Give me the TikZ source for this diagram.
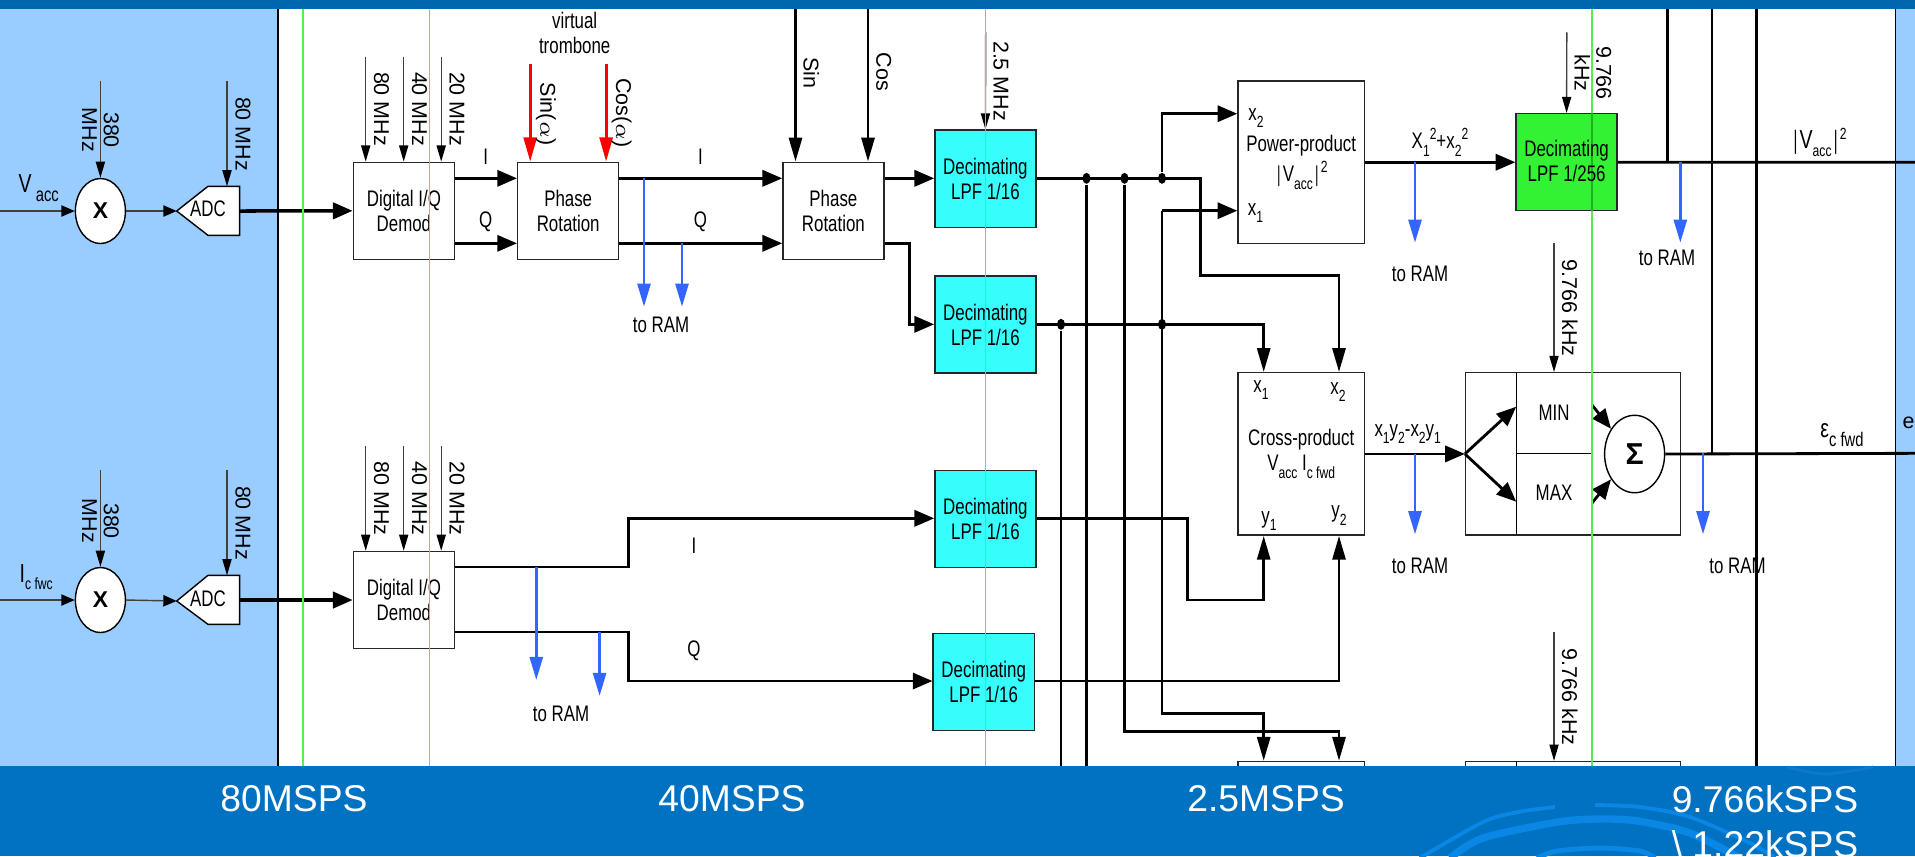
\documentclass[tikz,border=0pt]{standalone}
\usepackage{fontspec}
\usepackage{xcolor}
\usetikzlibrary{arrows.meta,shapes.geometric}
\setmainfont{Liberation Sans}
\newfontfamily\narrowfont[FakeStretch=0.75]{Liberation Sans}
\newcommand{\labsize}{\fontsize{6.4}{7.1}\selectfont}
\newcommand{\rotsize}{\fontsize{6.1}{6.2}\selectfont}
\newcommand{\bigsize}{\fontsize{7.4}{8}\selectfont}
\newcommand{\lowsub}[1]{\raisebox{-2.2pt}{\fontsize{4.6}{5}\selectfont #1}}
\newcommand{\lowsubb}[1]{\raisebox{-2.6pt}{\fontsize{5.6}{6}\selectfont #1}}
\newcommand{\highsup}[1]{\raisebox{2.6pt}{\fontsize{4.6}{5}\selectfont #1}}
\definecolor{panelblue}{HTML}{99CCFF}
\definecolor{topband}{HTML}{0066AE}
\definecolor{botband}{HTML}{0072C1}
\definecolor{swirlblue}{HTML}{0A86E4}
\definecolor{swirlpale}{HTML}{1078C8}
\definecolor{ramblue}{HTML}{3366FF}
\definecolor{deccyan}{HTML}{38FDFD}
\definecolor{decgreen}{HTML}{33F233}
\definecolor{syncgreen}{HTML}{55EE55}
\definecolor{syncdark}{HTML}{22B022}
\tikzset{
  sigbox/.style={draw=black!85,fill=white,inner sep=0pt,line width=.4pt,minimum width=1.01cm,minimum height=.97cm,align=center},
  decbox/.style={sigbox,fill=deccyan},
  lab/.style={inner sep=0pt,align=center},
  rotlab/.style={inner sep=0pt,align=center,rotate=-90,font=\rmfamily\rotsize},
  clkline/.style={line width=.4pt,black!75,-{Triangle[length=4.6pt,width=2.6pt,black]}},
  clkin/.style={line width=.4pt,black!75,-{Triangle[length=3.8pt,width=3.2pt,black]}},
  sigline/.style={line width=.8pt,-{Triangle[length=5.6pt,width=4.6pt]}},
  sigdown/.style={line width=.8pt,-{Triangle[length=6.8pt,width=3.7pt]}},
  wire/.style={line width=.8pt},
  fatline/.style={line width=1pt,-{Triangle[length=5.6pt,width=4.6pt]}},
  ramline/.style={line width=.8pt,ramblue,-{Triangle[length=6.6pt,width=3.7pt]}},
  redline/.style={line width=.8pt,red,-{Triangle[length=6.9pt,width=3.7pt]}},
  dotnode/.style={ellipse,fill=black,inner sep=0pt,minimum width=.08cm,minimum height=.11cm},
  bandlab/.style={inner sep=0pt,white,font=\rmfamily\fontsize{10.6}{12}\selectfont},
  syncline/.style={line width=.35pt,syncgreen},
  swirl/.style={swirlblue,line cap=butt}
}
\begin{document}
\begin{tikzpicture}[x=0.01cm,y=-0.01cm,font=\narrowfont\labsize]
  \useasboundingbox (0,0) rectangle (1915,856);
  \clip (0,0) rectangle (1915,856);
  % side panels
  \fill[panelblue] (0,0) rectangle (278,770);
  \fill[panelblue] (1895.4,0) rectangle (1915,770);
  \draw[line width=.35pt] (278,0) -- (278,770);
  \draw[line width=.35pt] (1895.4,0) -- (1895.4,770);
  % row heights and free ends
  \coordinate (rowi) at (0,178.3);
  \coordinate (rowq) at (0,243.3);
  \coordinate (rowxb) at (0,113.7);
  \coordinate (rowxa) at (0,210.7);
  \coordinate (rowqb) at (0,324.3);
  \coordinate (rowc) at (0,518.3);
  \coordinate (rowd) at (0,681);
  \coordinate (rowe) at (0,567);
  \coordinate (rowf) at (0,632);
  \coordinate (rowgb) at (0,713.3);
  \coordinate (rowgc) at (0,731.7);
  \coordinate (rowend) at (0,770);
  \coordinate (xone) at (1263.7,0);
  \coordinate (xtwo) at (1339,0);
  \coordinate (busc) at (1162,0);
  % front end, upper channel
  \node[ellipse,draw,fill=white,inner sep=0pt,minimum width=.5cm,minimum height=.65cm] (mixa) at (100.4,211) {\rmfamily\bfseries\fontsize{6.5}{7}\selectfont X};
  \draw[fill=white,line width=.4pt] (176.7,211) -- (208,186.3) -- (239.6,186.3) -- (239.6,235.3) -- (208,235.3) -- cycle;
  \coordinate (adcatip) at (176.7,211);
  \coordinate (adcaout) at (239.6,211);
  \coordinate (adcatop) at (227,186.3);
  \node[lab] (adcalab) at (208,209) {ADC};
  \coordinate (vaccin) at (0,211);
  \coordinate (mixclka) at (100.4,81);
  \coordinate (adcclka) at (227,81);
  \node[sigbox] (demoda) at (403.9,210.8) {Digital I/Q\\Demod};
  \node[sigbox] (rota) at (568.2,210.8) {Phase\\Rotation};
  \node[sigbox] (rotb) at (833.4,210.8) {Phase\\Rotation};
  \node[decbox] (deca) at (985.4,178.7) {Decimating\\LPF 1/16};
  \node[decbox] (decb) at (985.4,324.5) {Decimating\\LPF 1/16};
  \draw[clkin] (vaccin) -- (mixa.west);
  \draw[clkin] (mixa.east) -- (adcatip);
  \draw[clkline] (mixclka) -- (mixa.north);
  \draw[clkline] (adcclka) -- (adcatop);
  \draw[fatline] (adcaout) -- (demoda.west);
  \node[lab,font=\narrowfont\bigsize,anchor=west] (vacclab) at (18,188) {V\lowsubb{ acc}};
  \node[rotlab] (mixlaba) at (100.4,130) {380\\MHz};
  \node[rotlab] (adclaba) at (243,134) {80 MHz};
  % clocks of the first demodulator
  \coordinate (clka) at (365.7,56.7);
  \coordinate (clkb) at (403.7,56.7);
  \coordinate (clkc) at (441.2,56.7);
  \draw[clkline] (clka) -- (clka |- demoda.north);
  \draw[clkline] (clkb) -- (clkb |- demoda.north);
  \draw[clkline] (clkc) -- (clkc |- demoda.north);
  \node[rotlab] (clklaba) at (381.6,109) {80 MHz};
  \node[rotlab] (clklabb) at (419.6,109) {40 MHz};
  \node[rotlab] (clklabc) at (457,109) {20 MHz};
  \draw[sigline] (demoda.east |- rowi) -- (rota.west |- rowi);
  \draw[sigline] (demoda.east |- rowq) -- (rota.west |- rowq);
  \node[lab] (ilaba) at (485.7,157) {I};
  \node[lab] (qlaba) at (485.7,222) {Q};
  % trombone
  \node[lab] (tromblab) at (574.7,33) {virtual\\trombone};
  \coordinate (sina) at (530.2,64);
  \coordinate (cosa) at (606.1,64);
  \draw[redline] (sina) -- (sina |- rota.north);
  \draw[redline] (cosa) -- (cosa |- rota.north);
  \node[rotlab] (sinlaba) at (546,114) {Sin($\alpha$)};
  \node[rotlab] (coslaba) at (621.6,113) {Cos($\alpha$)};
  \draw[sigline] (rota.east |- rowi) -- (rotb.west |- rowi);
  \draw[sigline] (rota.east |- rowq) -- (rotb.west |- rowq);
  \node[lab] (ilabb) at (700.4,157) {I};
  \node[lab] (qlabb) at (700.4,222) {Q};
  \coordinate (rama) at (644,306.7);
  \coordinate (ramb) at (682,306.7);
  \draw[ramline] (rama |- rowi) -- (rama);
  \draw[ramline] (ramb |- rowq) -- (ramb);
  \node[lab] (ramlaba) at (661,325) {to RAM};
  % second rotation
  \coordinate (sinb) at (795.5,5);
  \coordinate (cosb) at (868,5);
  \draw[sigdown] (sinb) -- (sinb |- rotb.north);
  \draw[sigdown] (cosb) -- (cosb |- rotb.north);
  \node[rotlab] (sinlabb) at (811.4,73) {Sin};
  \node[rotlab] (coslabb) at (883.7,72) {Cos};
  \coordinate (qbend) at (909.4,324.3);
  \draw[sigline] (rotb.east |- rowi) -- (deca.west |- rowi);
  \draw[sigline] (rotb.east |- rowq) -| (qbend) -- (decb.west |- qbend);
  \coordinate (clkdec) at (985.7,32);
  \draw[clkline] (clkdec) -- (deca.north);
  \node[rotlab] (declab) at (1001,81) {2.5 MHz};
  % front end, lower channel
  \node[ellipse,draw,fill=white,inner sep=0pt,minimum width=.5cm,minimum height=.65cm] (mixb) at (100.4,600) {\rmfamily\bfseries\fontsize{6.5}{7}\selectfont X};
  \draw[fill=white,line width=.4pt] (176.7,601) -- (208,575.3) -- (239.6,575.3) -- (239.6,624.3) -- (208,624.3) -- cycle;
  \coordinate (adcbtip) at (176.7,601);
  \coordinate (adcbout) at (239.6,600);
  \coordinate (adcbtop) at (227,575.3);
  \node[lab] (adcblab) at (208,598.3) {ADC};
  \coordinate (icin) at (0,600);
  \coordinate (mixclkb) at (100.4,470);
  \coordinate (adcclkb) at (227,470);
  \node[sigbox] (demodb) at (403.9,600) {Digital I/Q\\Demod};
  \node[decbox] (decc) at (985.4,518.8) {Decimating\\LPF 1/16};
  \node[decbox] (decd) at (983.7,681.8) {Decimating\\LPF 1/16};
  \draw[clkin] (icin) -- (mixb.west);
  \draw[clkin] (mixb.east) -- (adcbtip);
  \draw[clkline] (mixclkb) -- (mixb.north);
  \draw[clkline] (adcclkb) -- (adcbtop);
  \draw[fatline] (adcbout) -- (demodb.west);
  \node[lab,font=\narrowfont\bigsize,anchor=west] (iclab) at (19,577) {I\lowsub{c fwc}};
  \node[rotlab] (mixlabb) at (100.4,521) {380\\MHz};
  \node[rotlab] (adclabb) at (243,523) {80 MHz};
  \coordinate (clkd) at (365.7,446);
  \coordinate (clke) at (403.7,446);
  \coordinate (clkf) at (441.2,446);
  \draw[clkline] (clkd) -- (clkd |- demodb.north);
  \draw[clkline] (clke) -- (clke |- demodb.north);
  \draw[clkline] (clkf) -- (clkf |- demodb.north);
  \node[rotlab] (clklabd) at (381.6,498.7) {80 MHz};
  \node[rotlab] (clklabe) at (419.6,498.7) {40 MHz};
  \node[rotlab] (clklabf) at (457,498.7) {20 MHz};
  \coordinate (ebend) at (628.6,518.3);
  \coordinate (fbend) at (628.6,681);
  \draw[sigline] (demodb.east |- rowe) -| (ebend) -- (decc.west |- ebend);
  \draw[sigline] (demodb.east |- rowf) -| (fbend) -- (decd.west |- fbend);
  \node[lab] (ilabc) at (694,546) {I};
  \node[lab] (qlabc) at (694,650.7) {Q};
  \coordinate (ramc) at (536.3,680);
  \coordinate (ramd) at (599.6,696);
  \draw[ramline] (ramc |- rowe) -- (ramc);
  \draw[ramline] (ramd |- rowf) -- (ramd);
  \node[lab] (ramlabb) at (561,714) {to RAM};
  % products
  \node[sigbox,minimum width=1.264cm,minimum height=1.623cm] (power) at (1301.2,162.2) {Power-product\\[.5pt]$|$V\lowsub{acc}$|$\highsup{2}};
  \node[sigbox,minimum width=1.264cm,minimum height=1.623cm] (cross) at (1301.2,453.9) {Cross-product\\V\lowsub{acc} I\lowsub{c fwd}};
  \node[sigbox,minimum width=1.264cm,minimum height=.09cm] (crossc) at (1301.2,766) {};
  \node[lab] (xtwolab) at (1256,118) {x\lowsub{2}};
  \node[lab] (xonelab) at (1255.5,213) {x\lowsub{1}};
  \node[lab] (xacross) at (1261,390) {x\lowsub{1}};
  \node[lab] (xbcross) at (1338,392) {x\lowsub{2}};
  \node[lab] (yacross) at (1269,521) {y\lowsub{1}};
  \node[lab] (ybcross) at (1339,515.7) {y\lowsub{2}};
  % bus wiring
  \coordinate (dbend) at (1200.4,275.7);
  \coordinate (cbend) at (1187.3,600);
  \node[dotnode] (dota) at (1086.5,178.3) {};
  \node[dotnode] (dotb) at (1124.5,178.3) {};
  \node[dotnode] (dotc) at (1162,178.3) {};
  \node[dotnode] (dotd) at (1061,324.3) {};
  \node[dotnode] (dote) at (1162,324.3) {};
  \draw[sigdown] (deca.east |- rowi) -| (dbend) -- (xtwo |- dbend) -- (xtwo |- cross.north);
  \draw[sigline] (dotc) |- (power.west |- rowxb);
  \draw[sigline] (busc |- rowxa) -- (power.west |- rowxa);
  \draw[sigdown] (busc |- rowxa) |- (xone |- rowgb) -- (xone |- crossc.north);
  \draw[sigdown] (decb.east |- rowqb) -- (xone |- rowqb) -- (xone |- cross.north);
  \draw[wire] (dotd) -- (dotd |- rowend);
  \draw[wire] (dota) -- (dota |- rowend);
  \draw[sigdown] (dotb) |- (xtwo |- rowgc) -- (xtwo |- crossc.north);
  \draw[sigdown] (decc.east |- rowc) -| (cbend) -- (xone |- cbend) -- (xone |- cross.south);
  \draw[sigdown] (decd.east |- rowd) -- (xtwo |- rowd) -- (xtwo |- cross.south);
  % power branch
  \node[decbox,fill=decgreen] (decg) at (1566.6,162.2) {};
  \draw[sigline] (power.east) -- (decg.west);
  \node[lab] (powlab) at (1440,142) {X\lowsub{1}\highsup{2}+x\lowsub{2}\highsup{2}};
  \coordinate (rame) at (1415,242.7);
  \draw[ramline] (rame |- power.east) -- (rame);
  \node[lab] (ramlabc) at (1420,274) {to RAM};
  \coordinate (clkg) at (1566.8,32.3);
  \draw[clkline] (clkg) -- (decg.north);
  \node[rotlab] (glab) at (1593,73) {9.766\\kHz};
  \coordinate (rightout) at (1915,162.3);
  \draw[wire] (decg.east) -- (rightout);
  \coordinate (busr) at (1667.7,5);
  \coordinate (busm) at (1712,5);
  \coordinate (busn) at (1756.2,5);
  \draw[wire] (busr) -- (busr |- rightout);
  \coordinate (ramf) at (1680.3,242.7);
  \draw[ramline] (ramf |- rightout) -- (ramf);
  \node[lab] (ramlabd) at (1667,258) {to RAM};
  \node[lab,font=\narrowfont\bigsize] (vlab) at (1819,142) {$|$V\lowsub{acc}$|$\highsup{2}};
  % min max branch
  \node[sigbox,minimum width=2.147cm,minimum height=1.623cm] (minmax) at (1573,453.9) {};
  \node[sigbox,minimum width=2.147cm,minimum height=.09cm] (minmaxb) at (1573,766) {};
  \coordinate (mmtop) at (1516.2,372.7);
  \coordinate (mmbot) at (1516.2,535);
  \coordinate (mmmid) at (1516.2,453.3);
  \coordinate (mmend) at (1592,453.3);
  \coordinate (mmendb) at (1516.2,770);
  \draw[line width=.4pt] (mmtop) -- (mmbot);
  \draw[line width=.4pt] (mmmid) -- (mmend);
  \draw[line width=.4pt] (minmaxb.north -| mmtop) -- (mmendb);
  \node[lab] (minlab) at (1554,412.7) {MIN};
  \node[lab] (maxlab) at (1554,492.7) {MAX};
  \node[ellipse,draw,fill=white,inner sep=0pt,minimum width=.6cm,minimum height=.774cm,font=\rmfamily\bfseries\fontsize{8.6}{9}\selectfont] (sigma) at (1634.6,454) {Σ};
  \draw[sigline] (cross.east) -- (minmax.west);
  \node[lab] (crosslab) at (1407.7,434) {x\lowsub{1}y\lowsub{2}-x\lowsub{2}y\lowsub{1}};
  \coordinate (forka) at (1516.2,406.7);
  \coordinate (forkb) at (1516.2,501.7);
  \coordinate (suma) at (1592,405);
  \coordinate (sumb) at (1592,503);
  \draw[sigline] (minmax.west) -- (forka);
  \draw[sigline] (minmax.west) -- (forkb);
  \draw[sigline] (suma) -- (sigma.133);
  \draw[sigline] (sumb) -- (sigma.227);
  \coordinate (ramg) at (1415,534.3);
  \coordinate (ramh) at (1703,534.3);
  \coordinate (rightoutb) at (1915,453.3);
  \draw[ramline] (ramg |- cross.east) -- (ramg);
  \node[lab] (ramlabe) at (1420,566) {to RAM};
  \draw[wire] (sigma.east) -- (rightoutb);
  \draw[wire] (busm) -- (busm |- rightoutb);
  \draw[wire] (busn) -- (busn |- rowend);
  \draw[ramline] (ramh |- rightoutb) -- (ramh);
  \node[lab] (ramlabf) at (1737.5,566) {to RAM};
  \node[lab,font=\narrowfont\bigsize] (epslab) at (1842,435) {ε\lowsubb{c fwd}};
  \node[lab,font=\rmfamily\rotsize,anchor=west] (enlab) at (1902,423) {en};
  \coordinate (clkh) at (1554,243.3);
  \coordinate (clki) at (1554,632.3);
  \draw[clkline] (clkh) -- (clkh |- minmax.north);
  \draw[clkline] (clki) -- (clki |- minmaxb.north);
  \node[rotlab] (mmlaba) at (1569.7,308) {9.766 kHz};
  \node[rotlab] (mmlabb) at (1569.7,697) {9.766 kHz};
  % sampling boundaries
  \draw[syncline] (303,5) -- (303,770);
  \draw[syncline] (429.4,5) -- (429.4,770);
  \draw[syncline] (985.7,5) -- (985.7,770);
  \draw[syncline] (1592,5) -- (1592,770);
  \draw[line width=.35pt,syncdark] (1592,113.3) -- (1592,211);
  \node[lab] (decglab) at (1566.6,160.5) {Decimating\\LPF 1/256};
  % bands
  \fill[topband] (0,0) rectangle (1915,9);
  \fill[botband] (0,766) rectangle (1915,856);
  \draw[swirl,line width=1.1pt] plot[smooth] coordinates {(1420,858) (1483,822) (1518,812) (1555,807)};
  \draw[swirl,line width=1.1pt] plot[smooth] coordinates {(1595,805) (1640,807) (1690,817) (1750,843) (1775,858)};
  \draw[swirl,line width=2.1pt] plot[smooth] coordinates {(1450,858) (1483,838) (1558,822) (1600,819) (1638,821) (1690,833) (1740,858)};
  \draw[swirl,line width=1.4pt] plot[smooth] coordinates {(1537,858) (1557,851) (1600,848) (1640,851) (1655,858)};
  \draw[swirlpale,line width=.8pt] plot[smooth] coordinates {(1787,767) (1825,774) (1873,767)};
  \node[bandlab] (bandlaba) at (294,799) {80MSPS};
  \node[bandlab] (bandlabb) at (732,799) {40MSPS};
  \node[bandlab] (bandlabc) at (1266,799) {2.5MSPS};
  \node[bandlab] (bandlabd) at (1765,799) {9.766kSPS};
  \node[bandlab] (bandlabe) at (1765,844) {\textbackslash\ 1.22kSPS};
\end{tikzpicture}
\end{document}
